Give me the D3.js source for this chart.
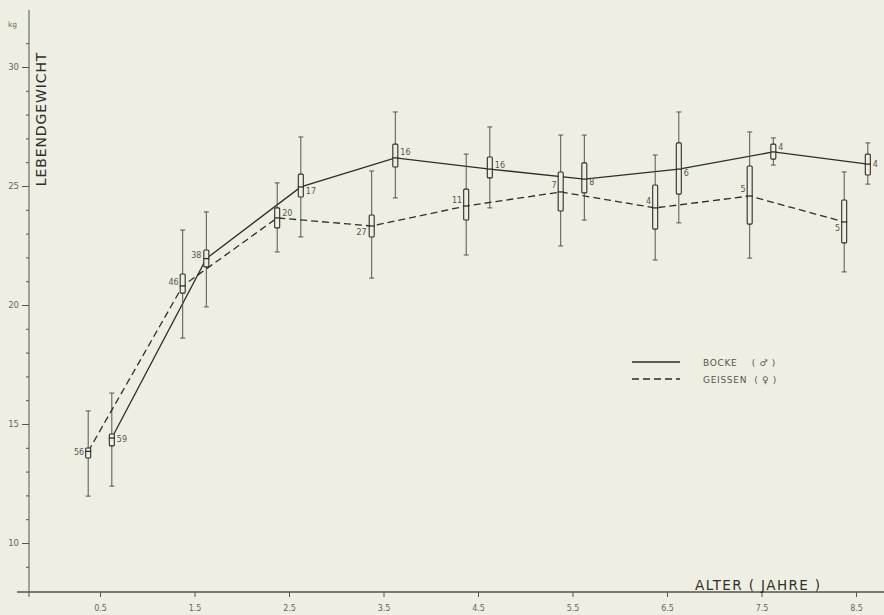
<!DOCTYPE html>
<html><head><meta charset="utf-8">
<script src="https://cdn.jsdelivr.net/npm/d3@7"></script>
<style>
html,body{margin:0;padding:0;background:#efeee2;}
svg{display:block;}
</style></head>
<body>
<script>
// ---- data ----
const ages = [0.5, 1.5, 2.5, 3.5, 4.5, 5.5, 6.5, 7.5, 8.5];
const tickLabels = ["0.5","1.5","2.5","3.5","4.5","5.5","6.5","7.5","8.5"];
const yTicks = [10, 15, 20, 25, 30];

// Böcke (males, solid)
const maleMean  = [14.41, 21.95, 24.96, 26.18, 25.71, 25.29, 25.71, 26.43, 25.92];
const maleBoxHi = [14.58, 22.31, 25.50, 26.76, 26.22, 25.97, 26.81, 26.76, 26.34];
const maleBoxLo = [14.08, 21.60, 24.54, 25.80, 25.34, 24.71, 24.66, 26.13, 25.46];
const maleMax   = [16.30, 23.91, 27.06, 28.11, 27.48, 27.14, 28.11, 27.02, 26.81];
const maleMin   = [12.39, 19.92, 22.86, 24.50, 24.08, 23.57, 23.45, 25.88, 25.08];
const maleN     = ["59", "38", "17", "16", "16", "8", "6", "4", "4"];

// Geissen (females, dashed)
const femMean  = [13.85, 20.80, 23.66, 23.32, 24.16, 24.75, 24.08, 24.58, 23.49];
const femBoxHi = [13.99, 21.30, 24.08, 23.78, 24.87, 25.59, 25.04, 25.84, 24.41];
const femBoxLo = [13.57, 20.50, 23.24, 22.86, 23.57, 23.95, 23.19, 23.40, 22.61];
const femMax   = [15.55, 23.15, 25.13, 25.63, 26.34, 27.14, 26.30, 27.27, 25.59];
const femMin   = [11.97, 18.61, 22.23, 21.13, 22.10, 22.48, 21.89, 21.97, 21.39];
const femN     = ["56", "46", "20", "27", "11", "7", "4", "5", "5"];

// ---- layout ----
const W = 884, H = 615;
const ink = "#2e2e2a", grey = "#55554f";
const svg = d3.select("body").append("svg").attr("width", W).attr("height", H);

const x = d3.scaleLinear().domain([0.5, 8.5]).range([100, 856]);
const y = d3.scaleLinear().domain([10, 30]).range([543, 67]);
const axisX = 29, axisY = 592, off = 0.125;

// y axis line
svg.append("line").attr("x1", axisX).attr("x2", axisX).attr("y1", 10).attr("y2", 597)
  .attr("stroke", grey).attr("stroke-width", 1);
// x axis line
svg.append("line").attr("x1", 17).attr("x2", 884).attr("y1", axisY).attr("y2", axisY)
  .attr("stroke", grey).attr("stroke-width", 1.6);

// y axis ticks via d3 axis
const yAxisMajor = d3.axisLeft(y).tickValues(yTicks).tickSize(7).tickPadding(3).tickFormat(d3.format("d"));
const gy = svg.append("g").attr("transform", `translate(${axisX},0)`).call(yAxisMajor);
gy.select(".domain").remove();
gy.selectAll("line").attr("stroke", grey);
gy.selectAll("text").attr("fill", "#66665f").attr("font-family", "DejaVu Sans").attr("font-size", 8.5);

const minor = d3.range(9, 32).filter(v => v % 5 !== 0);
const yAxisMinor = d3.axisLeft(y).tickValues(minor).tickSize(3).tickFormat("");
const gym = svg.append("g").attr("transform", `translate(${axisX},0)`).call(yAxisMinor);
gym.select(".domain").remove();
gym.selectAll("line").attr("stroke", grey);

// x axis ticks
const xAxis = d3.axisBottom(x).tickValues(ages).tickSize(5).tickPadding(8)
  .tickFormat((d, i) => tickLabels[i]);
const gx = svg.append("g").attr("transform", `translate(0,${axisY})`).call(xAxis);
gx.select(".domain").remove();
gx.selectAll("line").attr("stroke", grey);
gx.selectAll("text").attr("fill", "#66665f").attr("font-family", "DejaVu Sans").attr("font-size", 8);

// labels
svg.append("text").attr("x", 8).attr("y", 27).text("kg")
  .attr("font-family", "DejaVu Sans").attr("font-size", 7.5).attr("fill", "#66665f");
svg.append("text").attr("transform", "translate(46,119) rotate(-90)")
  .attr("text-anchor", "middle").text("LEBENDGEWICHT")
  .attr("font-family", "DejaVu Sans").attr("font-size", 14).attr("letter-spacing", 0.9)
  .attr("fill", ink);
svg.append("text").attr("x", 695).attr("y", 590).text("ALTER ( JAHRE )")
  .attr("font-family", "DejaVu Sans").attr("font-size", 13.5).attr("letter-spacing", 1.4)
  .attr("fill", ink);

// series
function series(mean, bhi, blo, mx, mn, ns, shift, dash, labelOff) {
  const pts = ages.map((a, i) => ({
    a: a + shift, m: mean[i], bh: bhi[i], bl: blo[i], hi: mx[i], lo: mn[i], n: ns[i], lo2: labelOff[i]
  }));
  const g = svg.append("g");
  g.append("path").datum(pts)
    .attr("d", d3.line().x(d => x(d.a)).y(d => y(d.m)))
    .attr("fill", "none").attr("stroke", ink).attr("stroke-width", 1.3)
    .attr("stroke-dasharray", dash);
  const p = g.selectAll("g.pt").data(pts).join("g");
  p.append("line").attr("x1", d => x(d.a)).attr("x2", d => x(d.a))
    .attr("y1", d => y(d.hi)).attr("y2", d => y(d.lo)).attr("stroke", grey).attr("stroke-width", 1);
  p.append("line").attr("x1", d => x(d.a) - 2.5).attr("x2", d => x(d.a) + 2.5)
    .attr("y1", d => y(d.hi)).attr("y2", d => y(d.hi)).attr("stroke", grey);
  p.append("line").attr("x1", d => x(d.a) - 2.5).attr("x2", d => x(d.a) + 2.5)
    .attr("y1", d => y(d.lo)).attr("y2", d => y(d.lo)).attr("stroke", grey);
  p.append("rect").attr("x", d => x(d.a) - 2.5).attr("width", 5)
    .attr("y", d => y(d.bh)).attr("height", d => y(d.bl) - y(d.bh))
    .attr("fill", "#efeee2").attr("stroke", ink).attr("stroke-width", 1.1).attr("rx", 1);
  p.append("line").attr("x1", d => x(d.a) - 3).attr("x2", d => x(d.a) + 3)
    .attr("y1", d => y(d.m)).attr("y2", d => y(d.m)).attr("stroke", ink).attr("stroke-width", 1.3);
  p.append("text").attr("x", d => x(d.a) + d.lo2[0]).attr("y", d => y(d.m) + d.lo2[1])
    .attr("text-anchor", d => d.lo2[0] < 0 ? "end" : "start")
    .text(d => d.n).attr("font-family", "DejaVu Sans").attr("font-size", 8).attr("fill", "#55554f");
}

const femLabelOff = [[-4, 4], [-4, -1], [5, -2], [-5, 9], [-4, -3], [-4, -4], [-4, -4], [-4, -4], [-4, 9]];
const maleLabelOff = [[5, 4], [-5, -1], [5, 7], [5, -3], [5, -1], [5, 6], [5, 7], [5, -2], [5, 3]];

series(maleMean, maleBoxHi, maleBoxLo, maleMax, maleMin, maleN, off, null, maleLabelOff);
series(femMean, femBoxHi, femBoxLo, femMax, femMin, femN, -off, "7,4", femLabelOff);

// legend
const lg = svg.append("g");
lg.append("line").attr("x1", 632).attr("x2", 680).attr("y1", 362).attr("y2", 362)
  .attr("stroke", ink).attr("stroke-width", 1.3);
lg.append("line").attr("x1", 632).attr("x2", 680).attr("y1", 379).attr("y2", 379)
  .attr("stroke", ink).attr("stroke-width", 1.3).attr("stroke-dasharray", "7,4");
lg.append("text").attr("x", 703).attr("y", 366).text("BOCKE    ( ♂ )")
  .attr("font-family", "DejaVu Sans").attr("font-size", 9).attr("letter-spacing", 0.7)
  .attr("xml:space", "preserve").style("white-space", "pre").attr("fill", "#55554f");
lg.append("text").attr("x", 703).attr("y", 383).text("GEISSEN  ( ♀ )")
  .attr("font-family", "DejaVu Sans").attr("font-size", 9).attr("letter-spacing", 0.7)
  .attr("xml:space", "preserve").style("white-space", "pre").attr("fill", "#55554f");
</script>
</body></html>
